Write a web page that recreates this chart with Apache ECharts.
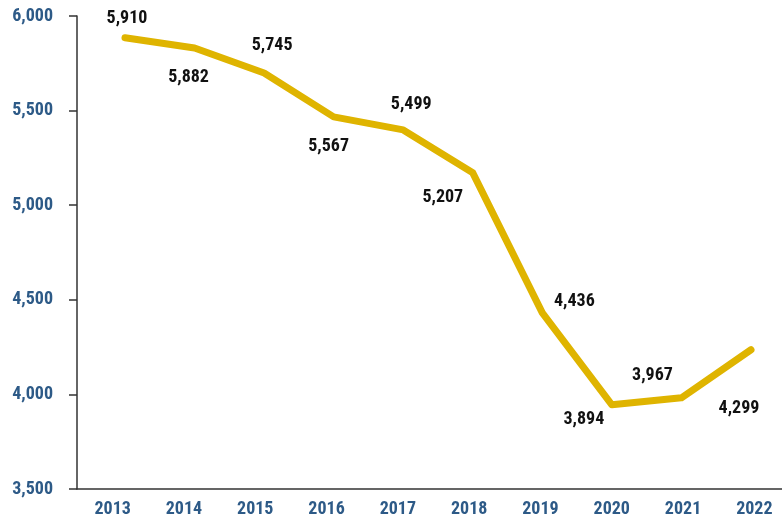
<!DOCTYPE html>
<html lang="en">
<head>
    <meta charset="UTF-8">
    <title>Line chart</title>
    <script src="https://cdn.jsdelivr.net/npm/echarts@6/dist/echarts.min.js"></script>
    <style>
        html, body { margin: 0; padding: 0; background: #fff; }
        #chart { width: 782px; height: 519px; }
    </style>
</head>
<body>
    <div id="chart"></div>
</body>
<script>
    // values
    var years = ['2013', '2014', '2015', '2016', '2017', '2018', '2019', '2020', '2021', '2022'];
    var plotted = [5885, 5831, 5699, 5467, 5398, 5171, 4431, 3945, 3982, 4236];
    var labels = [5910, 5882, 5745, 5567, 5499, 5207, 4436, 3894, 3967, 4299];
    var yTicks = [3500, 4000, 4500, 5000, 5500, 6000];

    var font = 'Roboto, "Liberation Sans", sans-serif';
    // echarts joins style/weight/size/family into the canvas font string,
    // so the stretch keyword can ride along with the weight
    var weight = 'bold condensed';
    var blue = '#2d5a87';
    var gold = '#dfb400';
    // label offset per point (px), where the text sits around each vertex
    var offsets = [[2, -19], [-6, 30], [8, -27], [-5, 30], [8, -25], [-30, 25], [32, -11], [-28, 15], [-29, -22], [-12, 59]];

    function fmt(v) {
        return String(v).replace(/\B(?=(\d{3})+(?!\d))/g, ',');
    }

    var chart = echarts.init(document.getElementById('chart'));

    var lineData = plotted.map(function (v, i) {
        return {
            value: v,
            label: { offset: offsets[i] }
        };
    });

    var option = {
        animation: false,
        grid: [{
            left: 77, top: 16, width: 713, height: 473, outerBoundsMode: 'none'
        }, {
            left: 125, top: 16, width: 626, height: 473, outerBoundsMode: 'none'
        }],
        xAxis: [{
            gridIndex: 0,
            type: 'category',
            data: years,
            boundaryGap: true,
            axisLine: { lineStyle: { color: '#333', width: 1.5 } },
            axisTick: { length: 8, lineStyle: { color: '#333', width: 1.5 } },
            axisLabel: { color: blue, fontFamily: font, fontWeight: weight, fontSize: 18, margin: 11 }
        }, {
            gridIndex: 1,
            type: 'category',
            data: years,
            boundaryGap: false,
            show: false
        }],
        yAxis: [{
            gridIndex: 0,
            type: 'value',
            min: yTicks[0],
            max: yTicks[yTicks.length - 1],
            interval: 500,
            splitLine: { show: false },
            axisLine: { show: true, lineStyle: { color: '#333', width: 1.5 } },
            axisTick: { show: true, length: 8, lineStyle: { color: '#333', width: 1.5 } },
            axisLabel: {
                color: blue, fontFamily: font, fontWeight: weight, fontSize: 18, margin: 24,
                formatter: function (v) { return fmt(v); }
            }
        }, {
            gridIndex: 1,
            type: 'value',
            min: yTicks[0],
            max: yTicks[yTicks.length - 1],
            show: false,
            splitLine: { show: false }
        }],
        series: [{
            type: 'line',
            xAxisIndex: 1,
            yAxisIndex: 1,
            data: lineData,
            symbol: 'circle',
            symbolSize: 1,
            itemStyle: { color: gold },
            lineStyle: { color: gold, width: 7, cap: 'round', join: 'round' },
            label: {
                show: true,
                position: 'inside',
                color: '#111',
                fontFamily: font,
                fontWeight: weight,
                fontSize: 18,
                formatter: function (p) { return fmt(labels[p.dataIndex]); }
            }
        }]
    };
    chart.setOption(option);
</script>
</html>
